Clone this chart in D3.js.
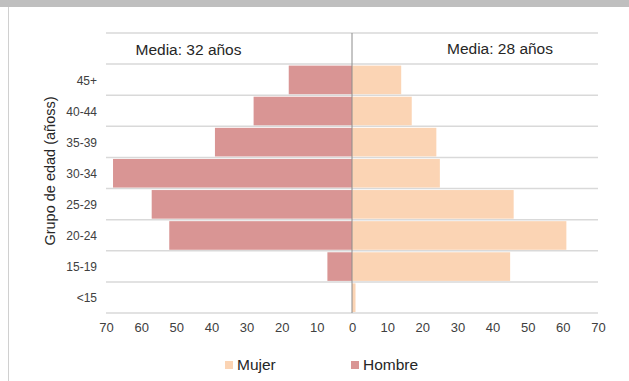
<!DOCTYPE html>
<html><head><meta charset="utf-8">
<script src="https://cdn.jsdelivr.net/npm/d3@7"></script>
<style>
body{margin:0;background:#fff;}
svg{display:block;font-family:"Liberation Sans",Arial,sans-serif;}
</style></head>
<body><svg id="c" width="629" height="381"></svg>
<script>
const categories = ["", "45+", "40-44", "35-39", "30-34", "25-29", "20-24", "15-19", "<15"];
const hombre = [null, 18, 28, 39, 68, 57, 52, 7, 0];
const mujer  = [null, 14, 17, 24, 25, 46, 61, 45, 1];
const ticks = [-70,-60,-50,-40,-30,-20,-10,0,10,20,30,40,50,60,70];
const mediaLabels = ["Media: 32 años", "Media: 28 años"];
const seriesNames = ["Mujer", "Hombre"];
const colors = {Mujer:"#fbd4b4", Hombre:"#d99594"};

const svg = d3.select("#c");
svg.append("rect").attr("x",0).attr("y",0).attr("width",629).attr("height",7).attr("fill","#bfbfbf");
svg.append("line").attr("x1",8.5).attr("x2",8.5).attr("y1",7).attr("y2",381).attr("stroke","#d0d0d0").attr("stroke-width",1);

const x = d3.scaleLinear().domain([-70,70]).range([106,598]);
const y = d3.scaleBand().domain(categories).range([33,313]).padding(0);

// gridlines at band boundaries
const bounds = categories.map(c=>y(c)).concat([y.range()[1]]);
svg.append("g").selectAll("line").data(bounds).join("line")
  .attr("x1",x(-70)).attr("x2",x(70)).attr("y1",d=>d).attr("y2",d=>d)
  .attr("stroke","#d9d9d9").attr("stroke-width",1.5);

const rows = categories.map((c,i)=>({c, h:hombre[i], m:mujer[i]})).filter(d=>d.h!==null);
const g = svg.append("g");
g.selectAll("rect.h").data(rows).join("rect").attr("class","h")
  .attr("x",d=>x(-d.h)).attr("width",d=>x(0)-x(-d.h))
  .attr("y",d=>y(d.c)+1.5).attr("height",y.bandwidth()-2.5)
  .attr("fill",colors.Hombre);
g.selectAll("rect.m").data(rows).join("rect").attr("class","m")
  .attr("x",x(0)).attr("width",d=>x(d.m)-x(0))
  .attr("y",d=>y(d.c)+1.5).attr("height",y.bandwidth()-2.5)
  .attr("fill",colors.Mujer);

// center line
svg.append("line").attr("x1",x(0)).attr("x2",x(0)).attr("y1",33).attr("y2",313)
  .attr("stroke","#8c8c8c").attr("stroke-width",1);

// x axis tick labels
const xAxis = d3.axisBottom(x).tickValues(ticks).tickSize(0).tickPadding(10).tickFormat(d=>Math.abs(d));
const xa = svg.append("g").attr("transform","translate(0,313)").call(xAxis);
xa.select(".domain").remove();
xa.selectAll("text").attr("font-size",13).attr("fill","#404040").attr("font-family","Liberation Sans, Arial, sans-serif");

// y axis labels
const yAxis = d3.axisLeft(y).tickSize(0).tickPadding(0);
const ya = svg.append("g").attr("transform","translate(97,1)").call(yAxis);
ya.select(".domain").remove();
ya.selectAll("text").attr("font-size",12).attr("fill","#404040").attr("font-family","Liberation Sans, Arial, sans-serif");

// axis title
svg.append("text").attr("transform","translate(55,171) rotate(-90)").attr("text-anchor","middle")
  .attr("font-size",14.5).attr("fill","#262626").text("Grupo de edad (añoss)");

// media labels
svg.append("text").attr("x",188.5).attr("y",55).attr("text-anchor","middle").attr("font-size",15.5).attr("fill","#262626").text(mediaLabels[0]);
svg.append("text").attr("x",500).attr("y",54).attr("text-anchor","middle").attr("font-size",15.5).attr("fill","#262626").text(mediaLabels[1]);

// legend
const legX = [225, 351];
seriesNames.forEach((s,i)=>{
  svg.append("rect").attr("x",legX[i]).attr("y",361).attr("width",8).attr("height",8).attr("fill",colors[s]);
  svg.append("text").attr("x",legX[i]+12).attr("y",370).attr("font-size",15.5).attr("fill","#262626").text(s);
});
</script></body></html>
